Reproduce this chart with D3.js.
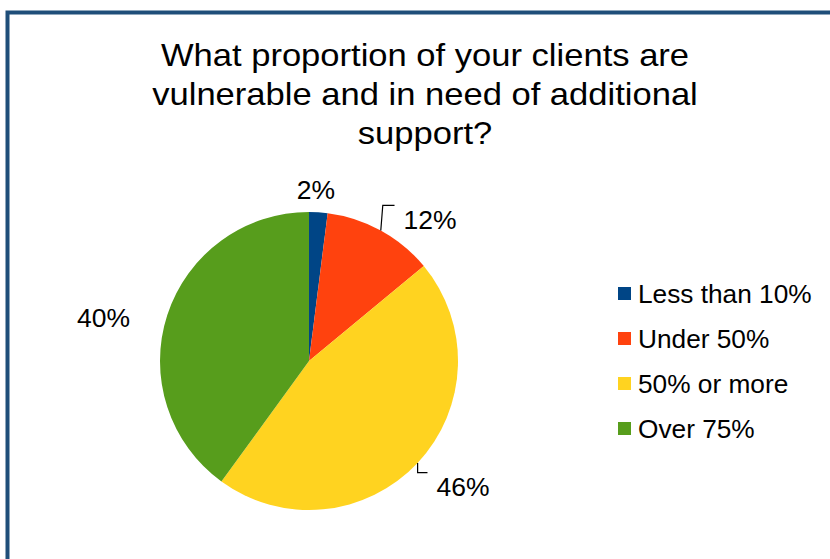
<!DOCTYPE html>
<html>
<head>
<meta charset="utf-8">
<script src="https://cdn.jsdelivr.net/npm/d3@7"></script>
<style>
  html, body { margin: 0; padding: 0; background: #ffffff; }
  svg { display: block; }
  text { font-family: "Liberation Sans", Arial, sans-serif; fill: #000; }
</style>
</head>
<body>
<svg id="chart" width="830" height="559"></svg>
<script>
// Survey answers and their shares (percent)
const categories = ["Less than 10%", "Under 50%", "50% or more", "Over 75%"];
const shares = [2, 12, 46, 40];
const colors = ["#004586", "#ff420e", "#ffd320", "#579d1c"];
const titleLines = ["What proportion of your clients are", "vulnerable and in need of additional", "support?"];

const W = 830, H = 559;
const svg = d3.select("#chart");

// outer frame
svg.append("rect")
  .attr("x", 7.5).attr("y", 12.5)
  .attr("width", W + 20).attr("height", H + 20)
  .attr("fill", "#ffffff")
  .attr("stroke", "#1f4e79").attr("stroke-width", 4);

// text drawn with a slight horizontal widening around its anchor
function wideText(parent, x, y, sx) {
  return parent.append("g")
    .attr("transform", `translate(${x},${y}) scale(${sx},1)`)
    .append("text").attr("x", 0).attr("y", 0);
}

// title
const titleX = 425;
titleLines.forEach((t, i) => {
  wideText(svg, titleX, 66 + i * 39, 1.08)
    .attr("text-anchor", "middle")
    .attr("font-size", 32)
    .text(t);
});

// pie
const cx = 309, cy = 361, R = 149;
const data = categories.map((c, i) => ({ name: c, value: shares[i], color: colors[i] }));
const pie = d3.pie().value(d => d.value).sort(null);
const arcs = pie(data);
const arc = d3.arc().innerRadius(0).outerRadius(R);

const g = svg.append("g").attr("transform", `translate(${cx},${cy})`);
g.selectAll("path.slice")
  .data(arcs)
  .join("path")
  .attr("class", "slice")
  .attr("d", arc)
  .attr("fill", d => d.data.color);

// label placement: polar offset (degrees, radius) from each slice's mid angle
const labelLayout = [
  { da: -1.3, r: 171, leader: false },
  { da: 11.8, r: 186, leader: true },
  { da: -3.9, r: 199, leader: true },
  { da: -6.2, r: 210, leader: false }
];
const labelSX = 1.06;
const fmt = v => v + "%";
arcs.forEach((a, i) => {
  const mid = (a.startAngle + a.endAngle) / 2;
  const L = labelLayout[i];
  const ang = mid + L.da * Math.PI / 180;
  const lx = L.r * Math.sin(ang), ly = -L.r * Math.cos(ang);
  const t = wideText(g, lx, ly, labelSX)
    .attr("text-anchor", "middle")
    .attr("dominant-baseline", "central")
    .attr("font-size", 25)
    .text(fmt(a.data.value));
  if (L.leader) {
    const bb = t.node().getBBox();
    const px = R * Math.sin(mid), py = -R * Math.cos(mid);
    const ey = ly - 14.5;
    const ex = lx + bb.x * labelSX - 9;
    const kx = py > ey ? px + 2 : px;
    g.append("path")
      .attr("d", `M${px},${py}L${kx},${ey}L${ex},${ey}`)
      .attr("fill", "none").attr("stroke", "#000").attr("stroke-width", 1.2);
  }
});

// legend
const legend = svg.append("g").attr("transform", "translate(618,294)");
const row = legend.selectAll("g").data(data).join("g")
  .attr("transform", (d, i) => `translate(0,${i * 45})`);
row.append("rect").attr("x", 0).attr("y", -7).attr("width", 13).attr("height", 13)
  .attr("fill", d => d.color);
row.append("g").attr("transform", "translate(20,0) scale(1.05,1)")
  .append("text").attr("x", 0).attr("y", 0)
  .attr("dominant-baseline", "central")
  .attr("font-size", 25)
  .text(d => d.name);
</script>
</body>
</html>
